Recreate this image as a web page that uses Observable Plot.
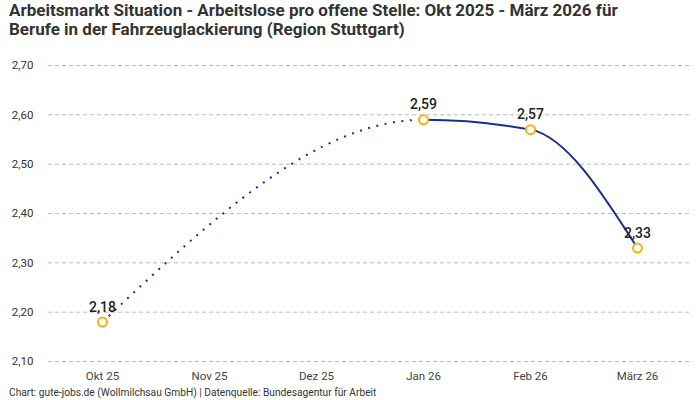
<!DOCTYPE html>
<html>
<head>
<meta charset="utf-8">
<script src="https://cdn.jsdelivr.net/npm/d3@7"></script>
<script src="https://cdn.jsdelivr.net/npm/@observablehq/plot@0.6"></script>
<style>
  body { margin: 0; background: #fff; width: 700px; height: 400px; overflow: hidden; }
  #title { height: 46px; padding: 1px 0 0 9px; box-sizing: border-box; font-family: "Liberation Sans Narrow", "Roboto", sans-serif; font-weight: bold; font-size: 17px; line-height: 18.5px; color: #333; }
  #caption { padding-left: 9px; font-family: "Roboto", "Noto Sans", sans-serif; font-size: 10.2px; line-height: 13px; color: #333; }
  svg { display: block; }
</style>
</head>
<body>
<div id="title">Arbeitsmarkt Situation - Arbeitslose pro offene Stelle: Okt 2025 - März 2026 für<br>Berufe in der Fahrzeuglackierung (Region Stuttgart)</div>
<div id="chart"></div>
<div id="caption">Chart: gute-jobs.de (Wollmilchsau GmbH) | Datenquelle: Bundesagentur für Arbeit</div>
<script>
const months = ["Okt 25", "Nov 25", "Dez 25", "Jan 26", "Feb 26", "März 26"];
const pointMonths = ["Okt 25", "Jan 26", "Feb 26", "März 26"];
const pointValues = [2.18, 2.59, 2.57, 2.33];
const yTicks = [2.1, 2.2, 2.3, 2.4, 2.5, 2.6, 2.7];

const data = pointMonths.map((m, i) => ({month: m, value: pointValues[i]}));
const fmt = v => v.toFixed(2).replace(".", ",");

const lineColor = "#1c2d8c";
const chart = Plot.plot({
  width: 700,
  height: 340,
  marginTop: 19,
  marginBottom: 25,
  marginLeft: 48,
  marginRight: 10,
  style: {fontFamily: "Roboto, 'Noto Sans', sans-serif", fontSize: "11.5px", color: "#333", background: "white"},
  x: {type: "point", domain: months, padding: 0.5, label: null},
  y: {domain: [2.1, 2.7], label: null},
  marks: [
    Plot.gridY(yTicks, {stroke: "#bbb", strokeOpacity: 1, strokeDasharray: "4,3"}),
    Plot.axisY(yTicks, {tickSize: 0, tickPadding: 15, tickFormat: fmt, label: null, fill: "#333"}),
    Plot.axisX({tickSize: 0, tickPadding: 10, label: null, fill: "#444"}),
    Plot.line(data, {x: "month", y: "value", curve: "monotone-x", stroke: lineColor, strokeWidth: 2, strokeDasharray: "2,6.5", strokeLinecap: "butt"}),
    Plot.line(data, {x: "month", y: "value", curve: "monotone-x", stroke: lineColor, strokeWidth: 2}),
    Plot.dot(data, {x: "month", y: "value", r: 4.5, stroke: "#f7b500", strokeWidth: 2, fill: "white"}),
    Plot.text(data, {x: "month", y: "value", text: d => fmt(d.value), dy: -15, fontSize: 14, fontWeight: 500, fill: "#222"})
  ]
});

document.getElementById("chart").appendChild(chart);

// split the curve: dotted before Jan 26, solid after
const xJan = chart.scale("x").apply("Jan 26");
const svg = d3.select(chart);
const defs = svg.insert("defs", ":first-child");
defs.append("clipPath").attr("id", "clip-left").append("rect")
  .attr("x", 0).attr("y", 0).attr("width", xJan).attr("height", 340);
defs.append("clipPath").attr("id", "clip-right").append("rect")
  .attr("x", xJan).attr("y", 0).attr("width", 700 - xJan).attr("height", 340);
const lines = svg.selectAll('g[aria-label="line"]').nodes();
if (lines.length === 2) {
  d3.select(lines[0]).attr("clip-path", "url(#clip-left)");
  d3.select(lines[1]).attr("clip-path", "url(#clip-right)");
}
</script>
</body>
</html>
